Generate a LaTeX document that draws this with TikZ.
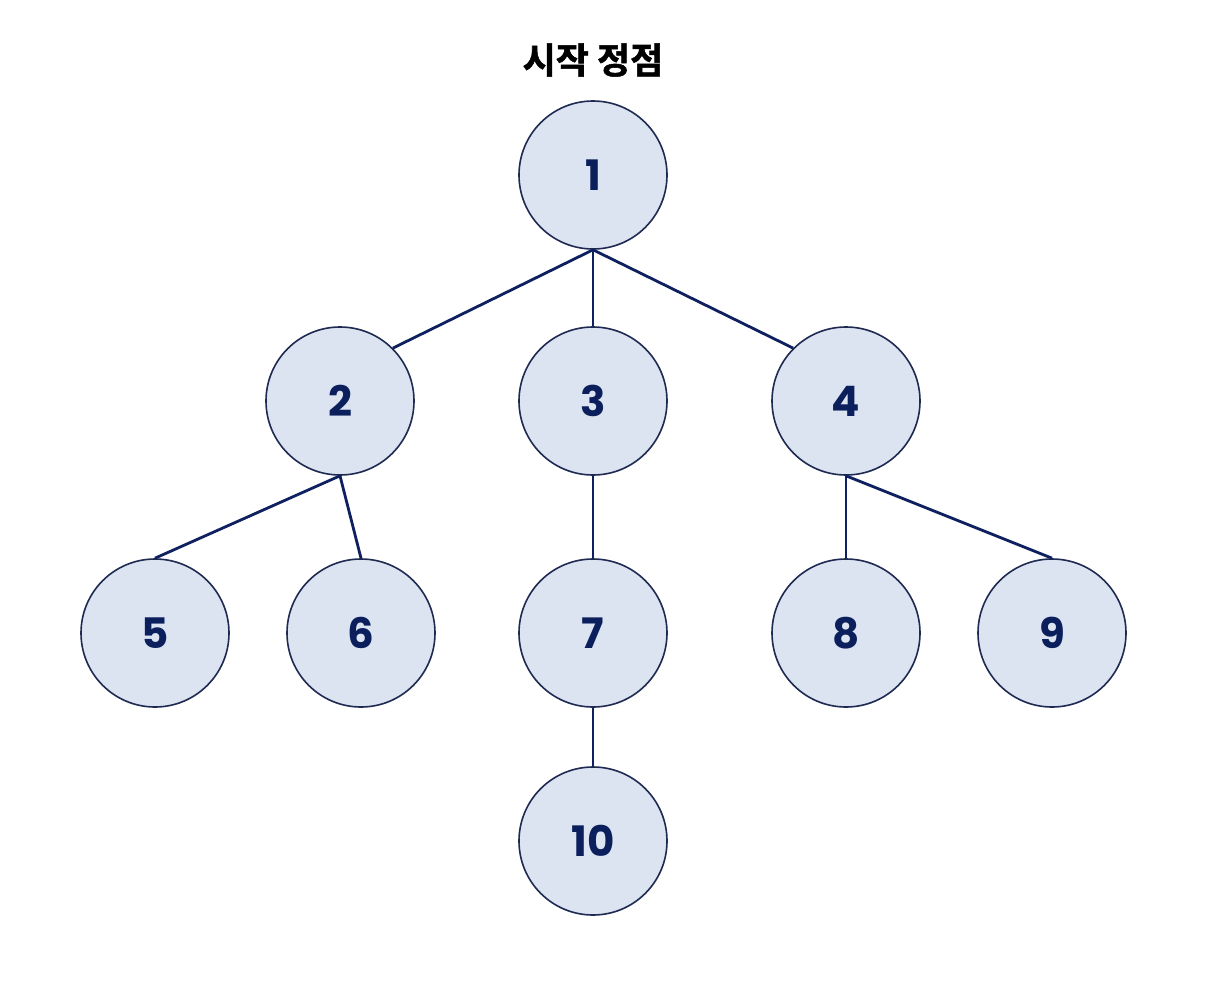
\documentclass[tikz,border=0pt]{standalone}
\usepackage{fontspec}
\setmainfont{Poppins}[BoldFont={* Bold}]
\newfontfamily\kofont{Noto Sans CJK KR}[BoldFont={* Bold},BoldFeatures={FakeBold=1.5}]
\definecolor{nodefill}{HTML}{DCE4F2}
\definecolor{nodeline}{HTML}{1E2A52}
\definecolor{edgecol}{HTML}{0F2060}
\definecolor{textcol}{HTML}{0B1F5C}
\begin{document}
\begin{tikzpicture}[x=1pt,y=-1pt,
  vert/.style={circle,draw=nodeline,fill=nodefill,line width=1.6pt,minimum size=148pt,inner sep=0pt,
    font=\fontsize{42}{42}\selectfont\bfseries,text=textcol},
  edge/.style={draw=edgecol,line width=2.8pt}]
\useasboundingbox[fill=white] (0,0) rectangle (1208,996);
\node[font=\kofont\fontsize{36}{36}\selectfont\bfseries] (title) at (593,60) {시작 정점};
\node[vert] (n1) at (593,175) {1};
\node[vert] (n2) at (340,401) {2};
\node[vert] (n3) at (593,401) {3};
\node[vert] (n4) at (846,401) {4};
\node[vert] (n5) at (155,633) {5};
\node[vert] (n6) at (361,633) {6};
\node[vert] (n7) at (593,633) {7};
\node[vert] (n8) at (846,633) {8};
\node[vert] (n9) at (1052,633) {9};
\node[vert] (n10) at (593,841) {10};
\draw[edge] (n1.south) -- (n2.45);
\draw[edge] (n1.south) -- (n3.north);
\draw[edge] (n1.south) -- (n4.135);
\draw[edge] (n2.south) -- (n5.north);
\draw[edge] (n2.south) -- (n6.north);
\draw[edge] (n3.south) -- (n7.north);
\draw[edge] (n7.south) -- (n10.north);
\draw[edge] (n4.south) -- (n8.north);
\draw[edge] (n4.south) -- (n9.north);
\end{tikzpicture}
\end{document}
